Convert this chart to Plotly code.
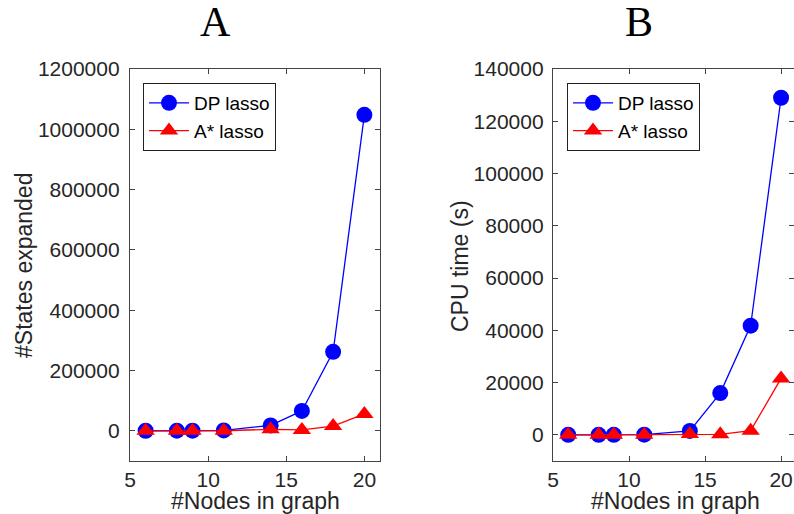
import plotly.graph_objects as go

nodes = [6, 8, 9, 11, 14, 16, 18, 20]
states_dp = [300, 500, 700, 1500, 18000, 66000, 262000, 1048000]
states_astar = [100, 150, 200, 400, 5000, 3000, 16000, 56000]
cpu_dp = [10, 20, 30, 80, 1500, 16000, 41800, 129000]
cpu_astar = [5, 10, 15, 40, 300, 200, 1600, 21600]

x_ticks = [5, 10, 15, 20]
y1_ticks = [0, 200000, 400000, 600000, 800000, 1000000, 1200000]
y2_ticks = [0, 20000, 40000, 60000, 80000, 100000, 120000, 140000]

W, H = 794, 514
BLUE, RED = "#0000FF", "#FF0000"
FONT = "Liberation Sans, Arial, sans-serif"
SERIF = "Liberation Serif, Times New Roman, serif"
AX = "#444444"
TXT = "#262626"

fig = go.Figure()

def add(x, y, name, color, symbol, xa, ya, legend):
    fig.add_trace(go.Scatter(
        x=x, y=y, name=name, mode="lines+markers",
        line=dict(color=color, width=1.3),
        marker=dict(color=color, size=16, symbol=symbol, line=dict(width=0)),
        xaxis=xa, yaxis=ya, legend=legend, showlegend=True))

add(nodes, states_dp, "DP lasso", BLUE, "circle", "x", "y", "legend")
add(nodes, states_astar, "A* lasso", RED, "triangle-up", "x", "y", "legend")
add(nodes, cpu_dp, "DP lasso", BLUE, "circle", "x2", "y2", "legend2")
add(nodes, cpu_astar, "A* lasso", RED, "triangle-up", "x2", "y2", "legend2")

def px_x(p):
    return p / W

def px_y(p):
    return 1 - p / H

ydom = [px_y(461), px_y(69)]

axis_common = dict(
    showline=True, linecolor=AX, linewidth=1.3, mirror="ticks",
    ticks="inside", ticklen=5, tickcolor=AX, showgrid=False, zeroline=False,
    automargin=False, tickformat="d",
    tickfont=dict(family=FONT, size=21, color=TXT),
)

legend_common = dict(
    xanchor="left", yanchor="top",
    bgcolor="white", bordercolor="#222222", borderwidth=1,
    font=dict(family=FONT, size=19, color="black"),
    tracegroupgap=0, itemwidth=40,
)

fig.update_layout(
    width=W, height=H,
    margin=dict(l=0, r=0, t=0, b=0, autoexpand=False),
    paper_bgcolor="white", plot_bgcolor="white",
    xaxis=dict(domain=[px_x(130), px_x(380)], range=[5, 21], tickvals=x_ticks,
               anchor="y", ticklabelstandoff=0, **axis_common),
    yaxis=dict(domain=ydom, range=[-100000, 1200000], tickvals=y1_ticks,
               anchor="x", ticklabelstandoff=5, **axis_common),
    xaxis2=dict(domain=[px_x(553), 1.0], range=[5, 20.85], tickvals=x_ticks,
                anchor="y2", ticklabelstandoff=0, **axis_common),
    yaxis2=dict(domain=ydom, range=[-10000, 140000], tickvals=y2_ticks,
                anchor="x2", ticklabelstandoff=4, **axis_common),
    legend=dict(x=px_x(143), y=px_y(83), **legend_common),
    legend2=dict(x=px_x(567), y=px_y(83), **legend_common),
)

def label(text, x, y, angle=0, size=23, family=FONT, color=TXT):
    fig.add_annotation(text=text, x=px_x(x), y=px_y(y), xref="paper", yref="paper",
                       showarrow=False, xanchor="center", yanchor="middle",
                       textangle=angle, font=dict(family=family, size=size, color=color))

label("A", 215, 22, size=42, family=SERIF, color="black")
label("B", 639, 22, size=42, family=SERIF, color="black")
label("#Nodes in graph", 255, 501)
label("#Nodes in graph", 675, 501)
label("#States expanded", 24, 266, angle=-90)
label("CPU time (s)", 460, 266, angle=-90)

fig.write_html("out.html", config={"displayModeBar": False},
               post_script="document.body.style.margin='0';document.body.style.overflow='hidden';")
